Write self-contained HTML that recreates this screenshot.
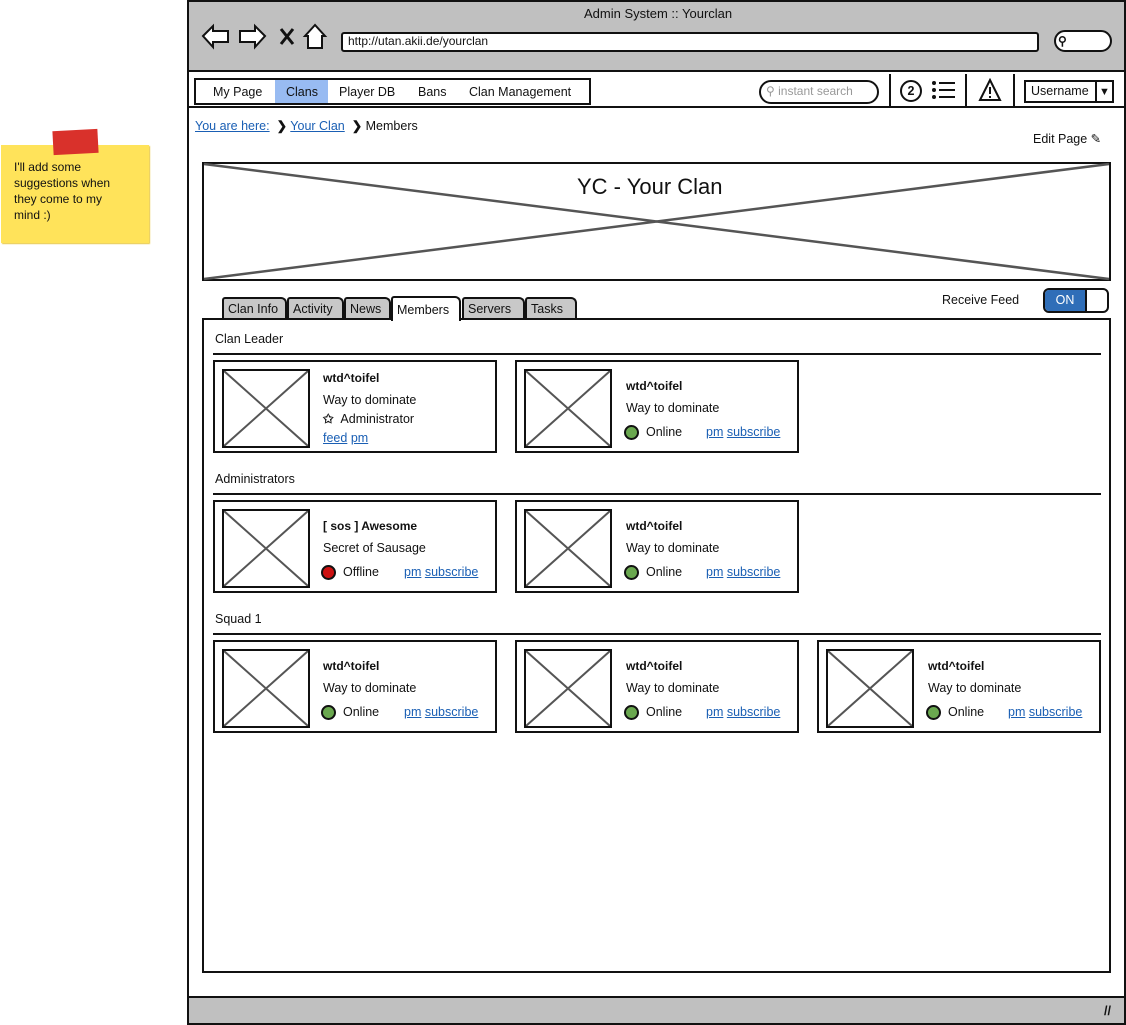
<!DOCTYPE html>
<html><head><meta charset="utf-8"><style>
*{margin:0;padding:0;box-sizing:border-box}
body{width:1126px;height:1025px;position:relative;background:#fff;font-family:"Liberation Sans",sans-serif;font-size:12.5px;color:#111;overflow:hidden}
.a{position:absolute}
.t{position:absolute;line-height:16px;white-space:nowrap}
.b{border:2px solid #111}
.lk{color:#1a5fb4;text-decoration:underline}
.card{position:absolute;width:284px;height:93px;border:2px solid #111;background:#fff}
.img{position:absolute;left:7px;top:7px;width:88px;height:79px;border:2px solid #111}
.nm{font-weight:bold;font-size:12px}
.dot{position:absolute;width:15px;height:15px;border-radius:50%;border:2px solid #111}
.tab{position:absolute;top:297px;height:22px;background:#c8c8c8;border:2px solid #111;border-bottom:none;border-radius:3px 6px 0 0;padding:2px 4px;font-size:12.5px;white-space:nowrap;line-height:16px}
.sec{position:absolute;left:213px;width:888px;height:2px;background:#111}
</style></head><body>

<div class="a" style="left:1px;top:145px;width:148px;height:98px;background:#ffe35a;box-shadow:1px 1px 1px #e8c840"></div>
<div class="a" style="left:53px;top:130px;width:45px;height:24px;background:#d9312b;transform:rotate(-3deg)"></div>
<div class="t" style="left:14px;top:159px;font-size:12px;line-height:16px">I'll add some<br>suggestions when<br>they come to my<br>mind :)</div>

<div class="a" style="left:187px;top:0;width:939px;height:1025px;border:2px solid #111;background:#fff"></div>
<div class="a" style="left:189px;top:2px;width:935px;height:70px;background:#c0c0c0;border-bottom:2px solid #111"></div>
<div class="t" style="left:584px;top:6px;font-size:13px">Admin System :: Yourclan</div>
<svg class="a" style="left:200px;top:22px" width="135" height="30" viewBox="0 0 135 30">
<path d="M3 14 L13 4 L13 9 L28 9 L28 20 L13 20 L13 25 Z" fill="#fff" stroke="#111" stroke-width="2"/>
<path d="M65 14 L55 4 L55 9 L40 9 L40 20 L55 20 L55 25 Z" fill="#fff" stroke="#111" stroke-width="2"/>
<path d="M81 7 L93 22 M93 7 L81 22" stroke="#111" stroke-width="3"/>
<path d="M115 3 L105 14 L108 14 L108 26 L122 26 L122 14 L125 14 Z" fill="#fff" stroke="#111" stroke-width="2"/>
</svg>
<div class="a b" style="left:341px;top:32px;width:698px;height:20px;background:#fff;border-radius:3px"></div>
<div class="t" style="left:348px;top:33px;font-size:12px">http://utan.akii.de/yourclan</div>
<div class="a b" style="left:1054px;top:30px;width:58px;height:22px;background:#fff;border-radius:11px"></div>
<div class="t" style="left:1058px;top:33px;font-size:12px;font-weight:bold">&#9906;</div>

<div class="a b" style="left:194px;top:78px;width:397px;height:27px;background:#fff"></div>
<div class="a" style="left:275px;top:80px;width:53px;height:23px;background:#98bbf2"></div>
<div class="t" style="left:213px;top:84px">My Page</div>
<div class="t" style="left:286px;top:84px">Clans</div>
<div class="t" style="left:339px;top:84px">Player DB</div>
<div class="t" style="left:418px;top:84px">Bans</div>
<div class="t" style="left:469px;top:84px">Clan Management</div>
<div class="a b" style="left:759px;top:80px;width:120px;height:24px;border-radius:12px"></div>
<div class="t" style="left:766px;top:83px;color:#999;font-size:12px">&#9906; instant search</div>
<div class="a" style="left:889px;top:74px;width:2px;height:32px;background:#111"></div>
<div class="a" style="left:965px;top:74px;width:2px;height:32px;background:#111"></div>
<div class="a" style="left:1013px;top:74px;width:2px;height:32px;background:#111"></div>
<div class="a" style="left:900px;top:80px;width:22px;height:22px;border:2px solid #111;border-radius:50%;text-align:center;font-weight:bold;line-height:18px">2</div>
<svg class="a" style="left:931px;top:80px" width="26" height="20"><g fill="#111"><circle cx="3" cy="3" r="2"/><circle cx="3" cy="10" r="2"/><circle cx="3" cy="17" r="2"/><rect x="8" y="2" width="16" height="2"/><rect x="8" y="9" width="16" height="2"/><rect x="8" y="16" width="16" height="2"/></g></svg>
<svg class="a" style="left:978px;top:78px" width="24" height="24"><path d="M12 2 L22 22 L2 22 Z" fill="none" stroke="#111" stroke-width="2"/><path d="M12 9 L12 16 M12 18 L12 20" stroke="#111" stroke-width="2"/></svg>
<div class="a b" style="left:1024px;top:80px;width:90px;height:23px"></div>
<div class="a" style="left:1095px;top:80px;width:2px;height:23px;background:#111"></div>
<div class="t" style="left:1031px;top:83px">Username</div>
<div class="t" style="left:1099px;top:84px;font-size:11px">&#9660;</div>
<div class="a" style="left:189px;top:106px;width:935px;height:2px;background:#111"></div>

<div class="t" style="left:195px;top:118px"><span class="lk">You are here:</span> &nbsp;<b>&#10095;</b> <span class="lk">Your Clan</span> &nbsp;<b>&#10095;</b> Members</div>
<div class="t" style="left:1033px;top:131px">Edit Page &#9998;</div>

<div class="a b" style="left:202px;top:162px;width:909px;height:119px"></div>
<svg class="a" style="left:202px;top:162px" width="909" height="119"><path d="M2 2 L907 117 M907 2 L2 117" stroke="#555" stroke-width="2.5"/></svg>
<div class="t" style="left:575px;top:174px;font-size:22px;line-height:26px;background:#fff;padding:0 2px">YC - Your Clan</div>

<div class="tab" style="left:222px;width:65px">Clan Info</div>
<div class="tab" style="left:287px;width:57px">Activity</div>
<div class="tab" style="left:344px;width:47px">News</div>
<div class="tab" style="left:462px;width:63px">Servers</div>
<div class="tab" style="left:525px;width:52px">Tasks</div>
<div class="t" style="left:942px;top:292px">Receive Feed</div>
<div class="a b" style="left:1043px;top:288px;width:66px;height:25px;border-radius:6px;overflow:hidden;background:#fff"><div class="a" style="left:0;top:0;width:42px;height:21px;background:#2f6eb8;border-right:2px solid #111;color:#fff;text-align:center;line-height:21px">ON</div></div>

<div class="a b" style="left:202px;top:318px;width:909px;height:655px"></div>
<div class="tab" style="left:391px;top:296px;width:70px;height:25px;background:#fff;padding-top:4px;z-index:2">Members</div>

<div class="t" style="left:215px;top:331px">Clan Leader</div><div class="sec" style="top:353px"></div>
<div class="t" style="left:215px;top:471px">Administrators</div><div class="sec" style="top:493px"></div>
<div class="t" style="left:215px;top:611px">Squad 1</div><div class="sec" style="top:633px"></div>

<div class="a" style="left:189px;top:996px;width:935px;height:27px;background:#c0c0c0;border-top:2px solid #111"></div>
<div class="t" style="left:1104px;top:1003px;font-weight:bold">//</div>

<svg width="0" height="0" style="position:absolute"><defs><symbol id="x" viewBox="0 0 84 75"><path d="M0 0 L84 75 M84 0 L0 75" stroke="#555" stroke-width="2"/></symbol></defs></svg>

<div class="card" style="left:213px;top:360px"><div class="img"><svg width="84" height="75"><use href="#x"/></svg></div>
<div class="t nm" style="left:108px;top:8px">wtd^toifel</div>
<div class="t" style="left:108px;top:30px">Way to dominate</div>
<div class="t" style="left:108px;top:49px"><b>&#10025;</b>&nbsp;&nbsp;Administrator</div>
<div class="t" style="left:108px;top:68px"><span class="lk">feed</span> <span class="lk">pm</span></div></div>

<div class="card" style="left:515px;top:360px"><div class="img"><svg width="84" height="75"><use href="#x"/></svg></div>
<div class="t nm" style="left:109px;top:16px">wtd^toifel</div>
<div class="t" style="left:109px;top:38px">Way to dominate</div>
<div class="dot" style="left:107px;top:63px;background:#6aa84f"></div>
<div class="t" style="left:129px;top:62px">Online</div>
<div class="t" style="left:189px;top:62px"><span class="lk">pm</span> <span class="lk">subscribe</span></div></div>

<div class="card" style="left:213px;top:500px"><div class="img"><svg width="84" height="75"><use href="#x"/></svg></div>
<div class="t nm" style="left:108px;top:16px">[ sos ] Awesome</div>
<div class="t" style="left:108px;top:38px">Secret of Sausage</div>
<div class="dot" style="left:106px;top:63px;background:#cc1111"></div>
<div class="t" style="left:128px;top:62px">Offline</div>
<div class="t" style="left:189px;top:62px"><span class="lk">pm</span> <span class="lk">subscribe</span></div></div>

<div class="card" style="left:515px;top:500px"><div class="img"><svg width="84" height="75"><use href="#x"/></svg></div>
<div class="t nm" style="left:109px;top:16px">wtd^toifel</div>
<div class="t" style="left:109px;top:38px">Way to dominate</div>
<div class="dot" style="left:107px;top:63px;background:#6aa84f"></div>
<div class="t" style="left:129px;top:62px">Online</div>
<div class="t" style="left:189px;top:62px"><span class="lk">pm</span> <span class="lk">subscribe</span></div></div>

<div class="card" style="left:213px;top:640px"><div class="img"><svg width="84" height="75"><use href="#x"/></svg></div>
<div class="t nm" style="left:108px;top:16px">wtd^toifel</div>
<div class="t" style="left:108px;top:38px">Way to dominate</div>
<div class="dot" style="left:106px;top:63px;background:#6aa84f"></div>
<div class="t" style="left:128px;top:62px">Online</div>
<div class="t" style="left:189px;top:62px"><span class="lk">pm</span> <span class="lk">subscribe</span></div></div>

<div class="card" style="left:515px;top:640px"><div class="img"><svg width="84" height="75"><use href="#x"/></svg></div>
<div class="t nm" style="left:109px;top:16px">wtd^toifel</div>
<div class="t" style="left:109px;top:38px">Way to dominate</div>
<div class="dot" style="left:107px;top:63px;background:#6aa84f"></div>
<div class="t" style="left:129px;top:62px">Online</div>
<div class="t" style="left:189px;top:62px"><span class="lk">pm</span> <span class="lk">subscribe</span></div></div>

<div class="card" style="left:817px;top:640px"><div class="img"><svg width="84" height="75"><use href="#x"/></svg></div>
<div class="t nm" style="left:109px;top:16px">wtd^toifel</div>
<div class="t" style="left:109px;top:38px">Way to dominate</div>
<div class="dot" style="left:107px;top:63px;background:#6aa84f"></div>
<div class="t" style="left:129px;top:62px">Online</div>
<div class="t" style="left:189px;top:62px"><span class="lk">pm</span> <span class="lk">subscribe</span></div></div>

</body></html>
